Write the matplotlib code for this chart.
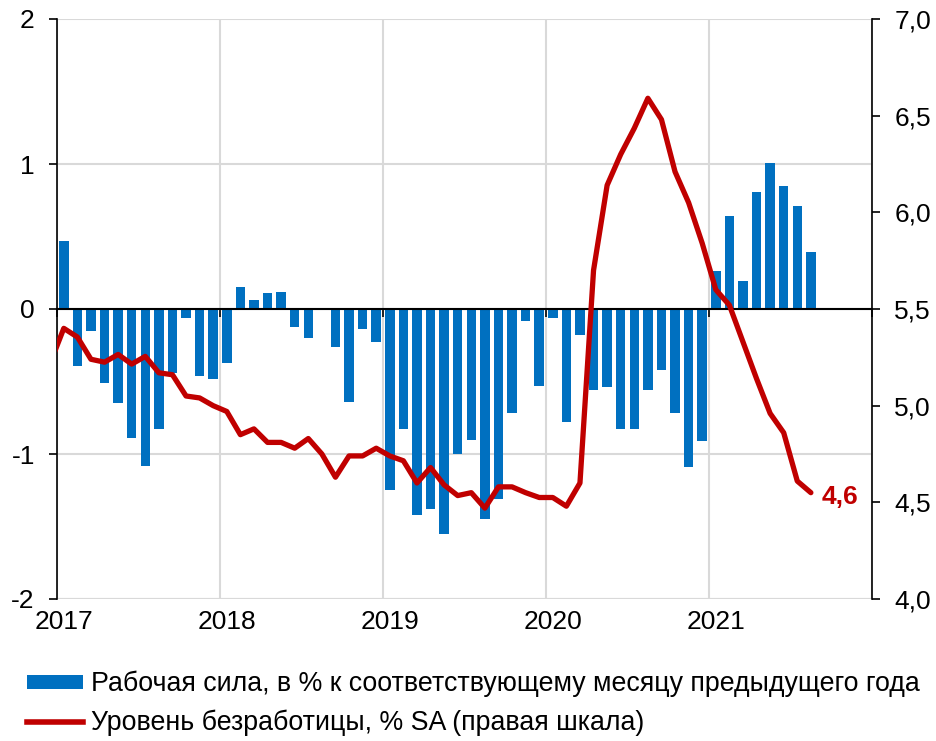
import matplotlib
matplotlib.use("Agg")
import matplotlib.pyplot as plt
from matplotlib.patches import Patch
from matplotlib.lines import Line2D
import numpy as np

plt.rcParams['font.family'] = ['Liberation Sans', 'DejaVu Sans']
plt.rcParams['axes.unicode_minus'] = False

# Labour force, % y/y, monthly Jan 2017 - Aug 2021
labour_force = [
    0.47, -0.39, -0.15, -0.51, -0.65, -0.89, -1.08, -0.83, -0.44, -0.06, -0.46, -0.48,
    -0.37, 0.15, 0.06, 0.11, 0.12, -0.125, -0.20, -0.01, -0.26, -0.64, -0.14, -0.23,
    -1.25, -0.83, -1.42, -1.38, -1.55, -1.00, -0.90, -1.45, -1.31, -0.72, -0.08, -0.53,
    -0.06, -0.78, -0.18, -0.56, -0.54, -0.83, -0.825, -0.56, -0.42, -0.72, -1.09, -0.91,
    0.26, 0.64, 0.19, 0.81, 1.01, 0.85, 0.71, 0.39,
]
# Unemployment rate, % SA, monthly Dec 2016 - Aug 2021 (first point lies left of the axis)
unemployment = [
    5.22,
    5.40, 5.355, 5.24, 5.225, 5.265, 5.215, 5.255, 5.17, 5.16, 5.05, 5.04, 5.00,
    4.97, 4.85, 4.88, 4.81, 4.81, 4.78, 4.83, 4.75, 4.63, 4.74, 4.74, 4.78,
    4.74, 4.715, 4.60, 4.68, 4.59, 4.535, 4.55, 4.47, 4.58, 4.58, 4.55, 4.525,
    4.525, 4.48, 4.60, 5.70, 6.14, 6.30, 6.435, 6.59, 6.48, 6.21, 6.05, 5.84,
    5.60, 5.52, 5.33, 5.14, 4.96, 4.86, 4.61, 4.55,
]
years = ['2017', '2018', '2019', '2020', '2021']
left_ticks = [-2, -1, 0, 1, 2]
right_ticks = [4.0, 4.5, 5.0, 5.5, 6.0, 6.5, 7.0]
last_label = '4,6'
bar_label = 'Рабочая сила, в % к соответствующему месяцу предыдущего года'
line_label = 'Уровень безработицы, % SA (правая шкала)'

BLUE = '#0070C0'
RED = '#C00000'
GRID = '#d9d9d9'
FS = 19

fig = plt.figure(figsize=(9.37, 7.41), dpi=100)
ax = fig.add_axes([57 / 937, 1 - 599 / 741, (872 - 57) / 937, 580 / 741])

xb = np.arange(len(labour_force)) + 0.5
ax.bar(xb, labour_force, width=0.7, color=BLUE, zorder=2)

n_months = 12 * len(years)
ax.set_xlim(0, n_months)
ax.set_ylim(-2, 2)
ax.set_yticks(left_ticks)
ax.set_yticklabels([str(t) for t in left_ticks])
ax.set_xticks(np.arange(0, n_months + 1, 12))
ax.tick_params(axis='x', direction='out', length=6, width=1.2, labelbottom=False)
ax.tick_params(axis='y', direction='out', length=6, width=1.2, pad=10, labelsize=FS)
ax.grid(True, color=GRID, linewidth=1.5, zorder=0)
ax.set_axisbelow(True)
ax.spines['top'].set_visible(False)
ax.spines['right'].set_visible(False)
ax.spines['bottom'].set_position(('data', 0))
ax.spines['bottom'].set_linewidth(1.5)
ax.spines['left'].set_linewidth(1.2)
# light bottom grid edge at -2
ax.axhline(-2, color=GRID, linewidth=1.5, zorder=0)

# year labels under the plot, centred on January
sec = ax.secondary_xaxis(0.0)
sec.set_xticks(np.arange(len(years)) * 12 + 0.5)
sec.set_xticklabels(years)
sec.tick_params(length=0, pad=8, labelsize=FS)
sec.spines['bottom'].set_visible(False)

ax2 = ax.twinx()
xl = np.arange(len(unemployment)) - 0.5
ax2.plot(xl, unemployment, color=RED, linewidth=3.8, solid_capstyle='round', zorder=3)
ax2.set_ylim(4.0, 7.0)
ax2.set_yticks(right_ticks)
ax2.set_yticklabels([f'{t:.1f}'.replace('.', ',') for t in right_ticks])
ax2.tick_params(axis='y', direction='out', length=6, width=1.2, pad=10, labelsize=FS)
for s in ['top', 'bottom', 'left']:
    ax2.spines[s].set_visible(False)
ax2.spines['right'].set_linewidth(1.2)
ax2.annotate(last_label, xy=(xl[-1], unemployment[-1]), xytext=(8, -3),
             textcoords='offset points', color=RED, fontsize=FS, fontweight='bold',
             va='center', ha='left')

handles = [Patch(facecolor=BLUE, edgecolor='none'),
           Line2D([0], [0], color=RED, linewidth=4)]
fig.legend(handles, [bar_label, line_label], loc='upper left',
           bbox_to_anchor=(27 / 937, 1 - 671 / 741), frameon=False, fontsize=19.3,
           handlelength=2.1, handleheight=0.4, handletextpad=0.3, labelspacing=0.45,
           borderaxespad=0, borderpad=0)

fig.savefig('out.png', dpi=100)
